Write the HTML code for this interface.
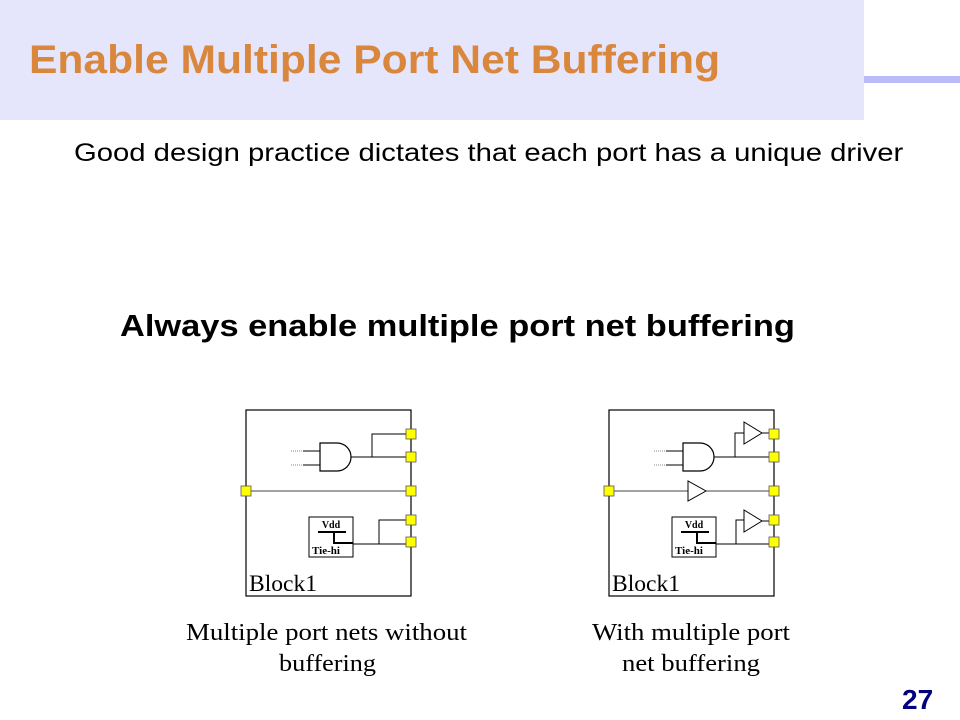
<!DOCTYPE html>
<html><head><meta charset="utf-8"><style>
body{margin:0;width:960px;height:720px;background:#fff;position:relative;overflow:hidden;font-family:"Liberation Sans",sans-serif}
.t{position:absolute;white-space:nowrap;transform-origin:0 0}
</style></head><body>
<div style="position:absolute;left:0;top:0;width:864px;height:120px;background:#e5e5fb"></div>
<div style="position:absolute;left:864px;top:76px;width:96px;height:7px;background:#bbbbf7"></div>
<div class="t" style="left:29px;top:38px;font-size:40px;font-weight:bold;color:#d9873d;transform:scaleX(1.065)">Enable Multiple Port Net Buffering</div>
<div class="t" style="left:74px;top:139px;font-size:25px;color:#000;transform:scaleX(1.17)">Good design practice dictates that each port has a unique driver</div>
<div class="t" style="left:120px;top:308px;font-size:31px;font-weight:bold;color:#000;transform:scaleX(1.11)">Always enable multiple port net buffering</div>
<div class="t" style="left:902px;top:684px;font-size:28px;font-weight:bold;color:#000080">27</div>
<svg width="960" height="720" style="position:absolute;left:0;top:0" font-family="Liberation Serif, serif">
<defs>
<g id="blk">
<rect x="246" y="410" width="165" height="186" fill="none" stroke="#000" stroke-width="1.2"/>
<line x1="291" y1="451" x2="303" y2="451" stroke="#888" stroke-dasharray="1,1"/>
<line x1="291" y1="465" x2="303" y2="465" stroke="#888" stroke-dasharray="1,1"/>
<line x1="303" y1="451" x2="320" y2="451" stroke="#000"/>
<line x1="303" y1="465" x2="320" y2="465" stroke="#000"/>
<path d="M320 443 H337 A14 14 0 0 1 337 471 H320 Z" fill="#fff" stroke="#000" stroke-width="1.2"/>
<line x1="351" y1="457" x2="411" y2="457" stroke="#000"/>
<line x1="246" y1="491" x2="411" y2="491" stroke="#444"/>
<rect x="309" y="517" width="44" height="40" fill="#fff" stroke="#000"/>
<text x="331" y="528" font-size="10" font-weight="bold" text-anchor="middle">Vdd</text>
<line x1="318" y1="532" x2="346" y2="532" stroke="#000" stroke-width="2"/>
<polyline points="334,532 334,543 353,543" fill="none" stroke="#000" stroke-width="2"/>
<text x="312" y="554" font-size="11" font-weight="bold">Tie-hi</text>
<line x1="353" y1="544" x2="411" y2="544" stroke="#000"/>
<text x="249" y="591" font-size="23" textLength="68" lengthAdjust="spacingAndGlyphs">Block1</text>
</g>
</defs>
<use href="#blk"/>
<use href="#blk" x="363"/>
<polyline points="372,457 372,434 411,434" fill="none" stroke="#000"/>
<polyline points="379,544 379,520 411,520" fill="none" stroke="#000"/>
<polyline points="735,457 735,433 744,433" fill="none" stroke="#000"/>
<polygon points="744,422 744,444 762,433" fill="#fff" stroke="#000"/>
<line x1="762" y1="433" x2="774" y2="433" stroke="#000"/>
<polygon points="688,481 688,501 706,491" fill="#fff" stroke="#000"/>
<polyline points="736,544 736,520 744,520" fill="none" stroke="#000"/>
<polygon points="744,510 744,532 762,521" fill="#fff" stroke="#000"/>
<line x1="762" y1="521" x2="774" y2="521" stroke="#000"/>
<g fill="#ffff00" stroke="#555" stroke-width="0.8">
<rect x="406" y="429" width="10" height="10"/><rect x="406" y="452" width="10" height="10"/><rect x="406" y="486" width="10" height="10"/><rect x="406" y="515" width="10" height="10"/><rect x="406" y="537" width="10" height="10"/><rect x="241" y="486" width="10" height="10"/>
<rect x="769" y="429" width="10" height="10"/><rect x="769" y="452" width="10" height="10"/><rect x="769" y="486" width="10" height="10"/><rect x="769" y="515" width="10" height="10"/><rect x="769" y="537" width="10" height="10"/><rect x="604" y="486" width="10" height="10"/>
</g>
<text x="186" y="640" font-size="24" textLength="281" lengthAdjust="spacingAndGlyphs">Multiple port nets without</text>
<text x="279" y="671" font-size="24" textLength="97" lengthAdjust="spacingAndGlyphs">buffering</text>
<text x="592" y="640" font-size="24" textLength="198" lengthAdjust="spacingAndGlyphs">With multiple port</text>
<text x="622" y="671" font-size="24" textLength="138" lengthAdjust="spacingAndGlyphs">net buffering</text>
</svg>
</body></html>
